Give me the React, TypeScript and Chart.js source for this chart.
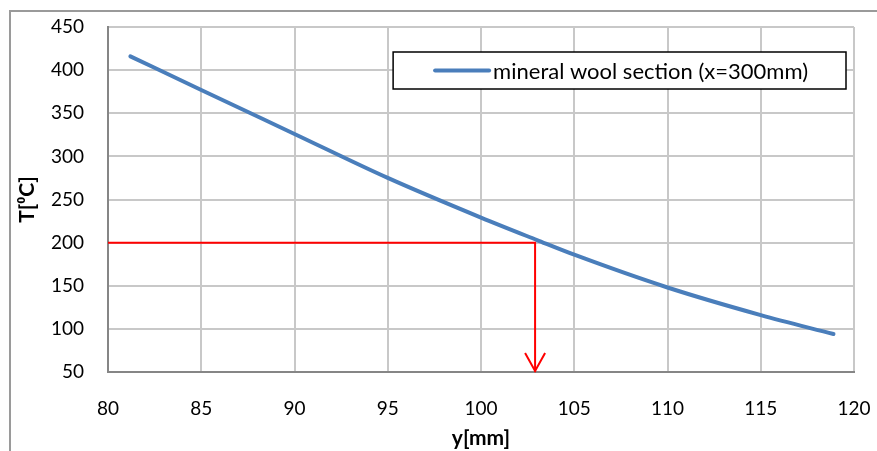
import React, { useEffect, useRef } from "react";
import { Chart, registerables } from "chart.js";

Chart.register(...registerables);

// Temperature profile through the mineral wool section
const seriesLabel = "mineral wool section (x=300mm)";
const yPositions = [81.2, 85, 90, 95, 100, 103, 105, 110, 115, 118.9];
const temperatures = [416, 377, 326, 275, 229, 203, 186, 148, 116, 94];

// Read-off guide: 200 °C reached at y ≈ 102.9 mm
const readTemperature = 200;
const readPosition = 102.9;

const xTicks = [80, 85, 90, 95, 100, 105, 110, 115, 120];
const yTicks = [50, 100, 150, 200, 250, 300, 350, 400, 450];

const FONT = "Lato, 'Liberation Sans', sans-serif";
const BLUE = "#4a7ebb";
const RED = "#ff0000";

// Outer frame (left and top edges)
const framePlugin = {
  id: "frame",
  beforeDraw(chart: any) {
    const { ctx, width, height } = chart;
    ctx.save();
    ctx.strokeStyle = "#9a9a9a";
    ctx.lineWidth = 2;
    ctx.beginPath();
    ctx.moveTo(10, height);
    ctx.lineTo(10, 11);
    ctx.lineTo(width, 11);
    ctx.stroke();
    ctx.restore();
  },
};

// Arrowhead at the end of the red read-off guide
const arrowPlugin = {
  id: "arrowHead",
  afterDatasetsDraw(chart: any) {
    const meta = chart.getDatasetMeta(1);
    const pts = meta.data;
    if (!pts || pts.length < 2) return;
    const tip = pts[pts.length - 1];
    const { ctx } = chart;
    ctx.save();
    ctx.strokeStyle = RED;
    ctx.lineWidth = 2;
    ctx.beginPath();
    ctx.moveTo(tip.x - 10, tip.y - 19);
    ctx.lineTo(tip.x, tip.y - 1);
    ctx.lineTo(tip.x + 10, tip.y - 19);
    ctx.stroke();
    ctx.restore();
  },
};

// Boxed legend inside the plot area, top right
const boxLegendPlugin = {
  id: "boxLegend",
  afterDatasetsDraw(chart: any) {
    const { ctx, chartArea } = chart;
    const ds = chart.data.datasets[0];
    ctx.save();
    ctx.font = `22px ${FONT}`;
    const tw = ctx.measureText(ds.label).width;
    const padL = 42;
    const lineLen = 54;
    const gap = 4;
    const padR = 38;
    const boxW = padL + lineLen + gap + tw + padR;
    const boxH = 37;
    const right = chartArea.right - 8;
    const left = right - boxW;
    const top = chartArea.top + 25;
    ctx.fillStyle = "#ffffff";
    ctx.fillRect(left, top, boxW, boxH);
    ctx.strokeStyle = "#000000";
    ctx.lineWidth = 1.5;
    ctx.strokeRect(left, top, boxW, boxH);
    const cy = top + boxH / 2;
    ctx.strokeStyle = ds.borderColor;
    ctx.lineWidth = 4;
    ctx.lineCap = "round";
    ctx.beginPath();
    ctx.moveTo(left + padL, cy);
    ctx.lineTo(left + padL + lineLen, cy);
    ctx.stroke();
    ctx.fillStyle = "#000000";
    ctx.textBaseline = "middle";
    ctx.textAlign = "left";
    ctx.fillText(ds.label, left + padL + lineLen + gap, cy + 1);
    ctx.restore();
  },
};

export default function App() {
  const canvasRef = useRef<HTMLCanvasElement | null>(null);

  useEffect(() => {
    if (!canvasRef.current) return;
    const chart = new Chart(canvasRef.current, {
      type: "line",
      data: {
        datasets: [
          {
            label: seriesLabel,
            data: yPositions.map((y, i) => ({ x: y, y: temperatures[i] })),
            borderColor: BLUE,
            backgroundColor: BLUE,
            borderWidth: 4,
            borderCapStyle: "round",
            pointRadius: 0,
            tension: 0.4,
            cubicInterpolationMode: "monotone",
            order: 2,
          },
          {
            label: "guide",
            data: [
              { x: 80, y: readTemperature },
              { x: readPosition, y: readTemperature },
              { x: readPosition, y: 50 },
            ],
            borderColor: RED,
            borderWidth: 2,
            pointRadius: 0,
            tension: 0,
            order: 1,
          },
        ],
      },
      options: {
        animation: false,
        responsive: true,
        maintainAspectRatio: false,
        layout: { padding: { top: 27, right: 23, left: 0, bottom: 0 } },
        plugins: {
          legend: { display: false },
          tooltip: { enabled: false },
        },
        scales: {
          x: {
            type: "linear",
            min: 80,
            max: 120,
            afterBuildTicks(scale: any) {
              scale.ticks = xTicks.map((v) => ({ value: v }));
            },
            afterFit(scale: any) {
              scale.height = 79;
              scale.paddingLeft = 0;
              scale.paddingRight = 0;
            },
            ticks: {
              padding: 25,
              color: "#000000",
              font: { family: FONT, size: 19 },
              maxRotation: 0,
            },
            grid: { color: "#c8c8c8", lineWidth: 2, drawTicks: false },
            border: { color: "#868686", width: 2 },
            title: {
              display: true,
              text: "y[mm]",
              color: "#000000",
              font: { family: FONT, size: 21, weight: "bold" },
              padding: { top: 0, bottom: 0 },
            },
          },
          y: {
            type: "linear",
            min: 50,
            max: 450,
            afterBuildTicks(scale: any) {
              scale.ticks = yTicks.map((v) => ({ value: v }));
            },
            afterFit(scale: any) {
              scale.width = 108;
              scale.paddingTop = 0;
              scale.paddingBottom = 0;
            },
            ticks: {
              padding: 24,
              color: "#000000",
              font: { family: FONT, size: 19 },
            },
            grid: { color: "#c8c8c8", lineWidth: 2, drawTicks: false },
            border: { color: "#868686", width: 2 },
            title: {
              display: true,
              text: "T[⁰C]",
              color: "#000000",
              font: { family: FONT, size: 21, weight: "bold" },
              padding: { top: 15, bottom: 0 },
            },
          },
        },
      },
      plugins: [framePlugin, arrowPlugin, boxLegendPlugin],
    });
    return () => chart.destroy();
  }, []);

  return (
    <div style={{ position: "absolute", left: 0, top: 0, width: 877, height: 451, background: "#ffffff" }}>
      <canvas ref={canvasRef} />
    </div>
  );
}
